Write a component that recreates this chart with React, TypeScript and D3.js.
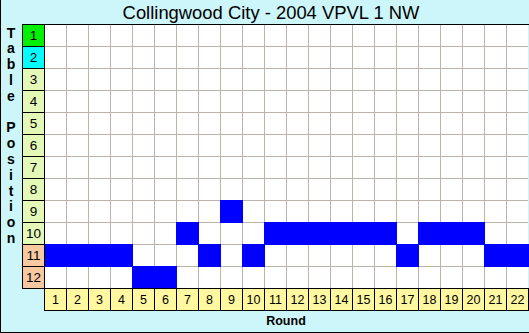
import React from "react";
import * as d3 from "d3";

const title = "Collingwood City - 2004 VPVL 1 NW";
const rounds = d3.range(1, 23);
const positions = d3.range(1, 13);
const ladderPositions = [11, 11, 11, 11, 12, 12, 10, 11, 9, 11, 10, 10, 10, 10, 10, 10, 11, 10, 10, 10, 11, 11];
const yAxisLabel = "Table Position";
const xAxisLabel = "Round";

const W = 529;
const H = 333;
const gridLeft = 44;
const gridTop = 24;
const cell = 22;

function posColor(p: number) {
  if (p === 1) return "#00f000";
  if (p === 2) return "#00ffff";
  if (p >= 11) return "#f8c8a0";
  return "#e4f8b8";
}

export default function App() {
  const x = d3.scaleBand<number>().domain(rounds).range([gridLeft, gridLeft + rounds.length * cell]);
  const y = d3.scaleBand<number>().domain(positions).range([gridTop, gridTop + positions.length * cell]);
  const gridBottom = gridTop + positions.length * cell;
  const gridRight = gridLeft + rounds.length * cell;
  const letters = yAxisLabel.split("");
  const font = "Arial, 'Liberation Sans', sans-serif";

  return (
    <svg width={W} height={H} style={{ position: "absolute", left: 0, top: 0, display: "block" }}>
      <rect x={0} y={0} width={W} height={H} fill="#ccf6fa" />
      <rect x={gridLeft} y={gridTop} width={gridRight - gridLeft} height={gridBottom - gridTop} fill="#ffffff" />
      {rounds.slice(1).map((r) => (
        <line key={"v" + r} x1={x(r)! + 0.5} x2={x(r)! + 0.5} y1={gridTop} y2={gridBottom} stroke="#bcb4ac" strokeWidth={1} />
      ))}
      {positions.slice(1).map((p) => (
        <line key={"h" + p} x1={gridLeft} x2={gridRight} y1={y(p)! + 0.5} y2={y(p)! + 0.5} stroke="#bcb4ac" strokeWidth={1} />
      ))}
      {ladderPositions.map((p, i) => (
        <rect key={"b" + i} x={x(rounds[i])!} y={y(p)!} width={x.bandwidth() + 1} height={y.bandwidth() + 1} fill="#0000ff" />
      ))}
      <text x={271} y={19} textAnchor="middle" fontFamily={font} fontSize={18.4} fill="#000">{title}</text>
      <line x1={gridLeft - cell} x2={W} y1={gridTop + 0.5} y2={gridTop + 0.5} stroke="#000" />
      {positions.map((p) => (
        <g key={"p" + p}>
          <rect x={gridLeft - cell + 0.5} y={y(p)! + 0.5} width={cell} height={cell} fill={posColor(p)} stroke="#000" strokeWidth={1} />
          <text x={gridLeft - cell / 2 + 0.5} y={y(p)! + cell / 2 + 5} textAnchor="middle" fontFamily={font} fontSize={13.5} fill="#000">{p}</text>
        </g>
      ))}
      {rounds.map((r) => (
        <g key={"r" + r}>
          <rect x={x(r)! + 0.5} y={gridBottom + 0.5} width={cell} height={cell} fill="#fff8a0" stroke="#000" strokeWidth={1} />
          <text x={x(r)! + cell / 2 + 0.5} y={gridBottom + cell / 2 + 5} textAnchor="middle" fontFamily={font} fontSize={12.5} fill="#000">{r}</text>
        </g>
      ))}
      {letters.map((c, i) => (
        <text key={"l" + i} x={11} y={37.5 + i * 15.8} textAnchor="middle" fontFamily={font} fontWeight="bold" fontSize={14} fill="#000">{c}</text>
      ))}
      <text x={gridLeft + (gridRight - gridLeft) / 2} y={325} textAnchor="middle" fontFamily={font} fontWeight="bold" fontSize={12.5} fill="#000">{xAxisLabel}</text>
      <line x1={0.5} x2={0.5} y1={0} y2={H} stroke="#000" />
      <line x1={0} x2={W} y1={H - 0.5} y2={H - 0.5} stroke="#000" />
    </svg>
  );
}
